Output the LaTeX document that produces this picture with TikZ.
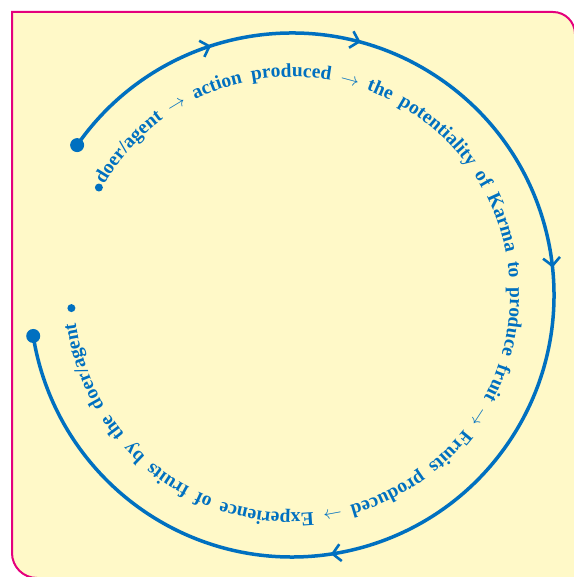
\documentclass[tikz,border=0pt]{standalone}
\usepackage{graphicx}
\usepackage{fontspec}
\newfontfamily\kfont{Liberation Serif}
\usetikzlibrary{decorations.text,decorations.markings,arrows.meta}
\definecolor{kblue}{RGB}{0,112,192}
\definecolor{kpink}{RGB}{228,0,124}
\definecolor{kyellow}{RGB}{255,249,200}
\newcommand{\kfmt}{\kfont\bfseries\fontsize{19.5}{22}\selectfont\color{kblue}}
\newcommand{\karr}{\scalebox{0.9}{$\mathsurround=0pt\rightarrow$}}
\tikzset{
  chev/.tip={Straight Barb[length=8pt,width=17pt,line width=2.6pt]},
  bigdot/.style={circle,fill=kblue,inner sep=0pt,minimum size=14pt},
  smalldot/.style={circle,fill=kblue,inner sep=0pt,minimum size=8pt},
  cycleline/.style={draw=kblue,line width=3.5pt},
  frame/.style={draw=kpink,fill=kyellow,line width=2pt}
}
\begin{document}
\begin{tikzpicture}[x=1pt,y=1pt]
\useasboundingbox (0,0) rectangle (573,577);
\path[frame] (12,565) -- (553,565) arc[start angle=90,end angle=0,radius=22]
  -- (575,-1) -- (37,-1) arc[start angle=270,end angle=180,radius=25] -- cycle;
\coordinate (C) at (292,282);
\path (C) ++(145.1:262) coordinate (s);
\path (C) ++(189:262) coordinate (e);
\path (C) ++(149.5:218) coordinate (ts);
\path (C) ++(150.9:221) coordinate (sd);
\path (C) ++(183.4:221) coordinate (ed);
\draw[cycleline, postaction={decorate},
  decoration={markings,
    mark=at position 0.1174 with {\arrow{chev}},
    mark=at position 0.2224 with {\arrow{chev}},
    mark=at position 0.440 with {\arrow{chev}},
    mark=at position 0.7168 with {\arrow{chev}}}]
  (s) arc[start angle=145.1,end angle=-171,radius=262];
\node[bigdot] (startdot) at (s) {};
\node[bigdot] (enddot) at (e) {};
\node[smalldot] (textstart) at (sd) {};
\node[smalldot] (textend) at (ed) {};
\path[decorate, decoration={text along path,
  text align={fit to path stretching spaces},
  text={|\kfmt|doer/agent {\karr} action produced {\karr} the potentiality of Karma to produce fruit {\karr} Fruits produced {\karr} Experience of fruits by the doer/agent}}]
  (ts) arc[start angle=149.5,end angle=-172.7,radius=218];
\end{tikzpicture}
\end{document}
